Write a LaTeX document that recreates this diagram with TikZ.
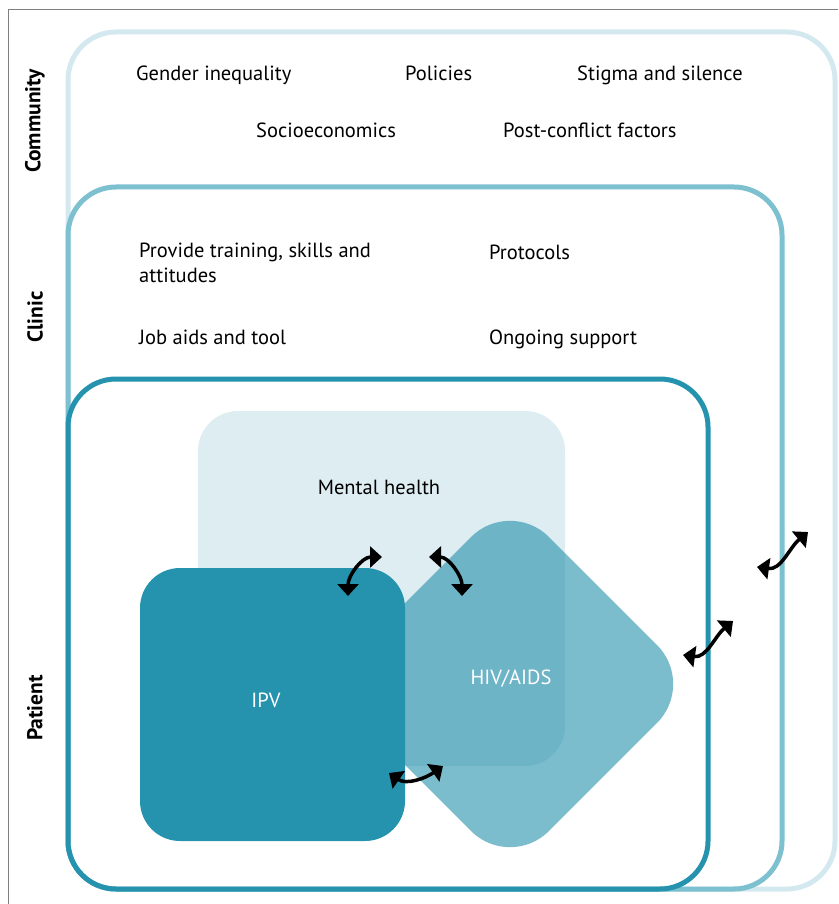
\documentclass[tikz,border=0pt]{standalone}
\usepackage{fontspec}
\setmainfont{PT Sans}
\usetikzlibrary{arrows.meta}
\definecolor{commcol}{HTML}{D4E8EF}
\definecolor{cliniccol}{HTML}{7DC0D0}
\definecolor{patcol}{HTML}{2593AE}
\definecolor{hivcol}{HTML}{7CBDCD}
\definecolor{mhcol}{RGB}{35,135,168}
\definecolor{framecol}{HTML}{808080}

\begin{document}
\begin{tikzpicture}[x=1pt,y=1pt,
    level/.style={line width=5pt,rounded corners=48pt},
    lbl/.style={font=\fontsize{20.5}{25}\selectfont,anchor=base west,inner sep=0pt},
    mid/.style={font=\fontsize{20.5}{25}\selectfont,anchor=base,inner sep=0pt},
    side/.style={font=\fontsize{21.5}{25}\selectfont\bfseries,rotate=90,inner sep=0pt},
    link/.style={line width=3.5pt,{Triangle[width=21pt,length=12pt]}-{Triangle[width=21pt,length=12pt]}}]
  \useasboundingbox (0,0) rectangle (838,-904);
  \draw[framecol,line width=1pt] (8,-904) -- (8,-10) -- (838,-10);
  \draw[level,commcol] (68,-32) rectangle (835,-889);
  \draw[level,cliniccol] (68,-187) rectangle (782,-889);
  \draw[level,patcol] (68,-379) rectangle (708,-889);
  \fill[hivcol,rotate around={45:(510,-684)},rounded corners=55pt] (378.5,-815.5) rectangle (641.5,-552.5);
  \fill[mhcol,opacity=.15,rounded corners=40pt] (198,-411) rectangle (565,-766);
  \fill[patcol,rounded corners=40pt] (140,-568) rectangle (405,-841);

  \node[side] (community) at (35,-121) {Community};
  \node[side] (clinic) at (35,-317) {Clinic};
  \node[side] (patient) at (35,-708) {Patient};

  \node[lbl] (gender) at (136,-81) {Gender inequality};
  \node[lbl] (policies) at (405,-81) {Policies};
  \node[lbl] (stigma) at (577,-81) {Stigma and silence};
  \node[lbl] (socio) at (256,-138) {Socioeconomics};
  \node[lbl] (postconflict) at (503,-138) {Post-conflict factors};
  \node[lbl,align=left,anchor=north west] (training) at (139,-243) {Provide training, skills and\\attitudes};
  \node[lbl] (protocols) at (489,-259) {Protocols};
  \node[lbl] (jobaids) at (139,-344) {Job aids and tool};
  \node[lbl] (ongoing) at (489,-344) {Ongoing support};

  \node[mid] (mental) at (379,-494) {Mental health};
  \node[mid,white] (ipv) at (266,-707) {IPV};
  \node[mid,white] (hiv) at (511,-684) {HIV/AIDS};

  \coordinate (ipvmhA) at (348,-596);
  \coordinate (ipvmhB) at (382,-557);
  \coordinate (mhhivA) at (429,-557);
  \coordinate (mhhivB) at (462,-596);
  \coordinate (ipvhivA) at (389,-773);
  \coordinate (ipvhivB) at (443,-766);
  \coordinate (patclinA) at (683,-655);
  \coordinate (patclinB) at (733,-621);
  \coordinate (clincommA) at (757,-567);
  \coordinate (clincommB) at (808,-532);
  \draw[link] (ipvmhA) to[out=90,in=180] (ipvmhB);
  \draw[link] (mhhivA) to[out=0,in=90] (mhhivB);
  \draw[link] (ipvhivA) to[out=-35,in=-145] (ipvhivB);
  \draw[link] (patclinA) to[out=-8,in=-140] (patclinB);
  \draw[link] (clincommA) to[out=-8,in=-140] (clincommB);
\end{tikzpicture}
\end{document}
